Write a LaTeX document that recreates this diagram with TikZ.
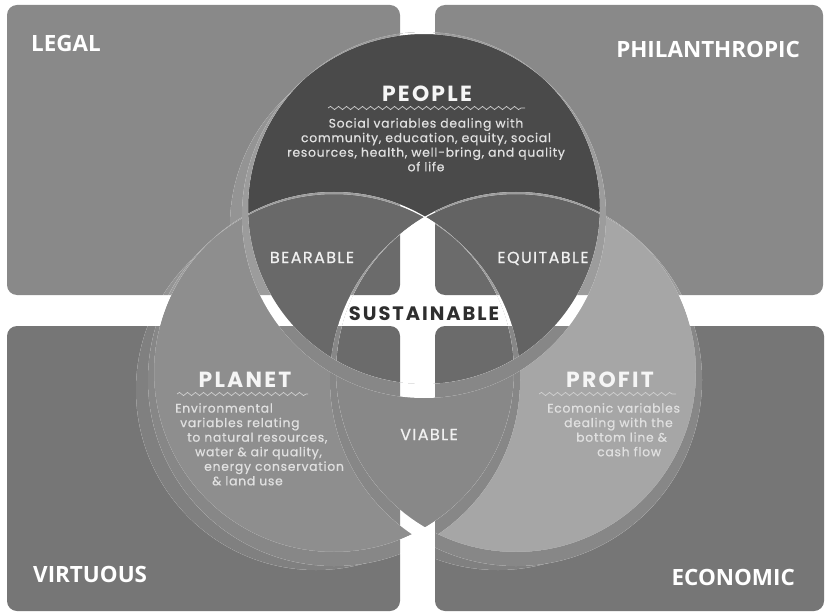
\documentclass[tikz,border=0pt]{standalone}
\usepackage{fontspec}
\usetikzlibrary{calc,decorations.pathmorphing}

\newfontfamily\quadfont{Open Sans}
\newfontfamily\venntitle{Poppins}[LetterSpace=10]
\newfontfamily\vennlabel{Poppins}[LetterSpace=9,FakeBold=0.7]
\newfontfamily\venntext{Poppins}[LetterSpace=6,FakeBold=0.7]

\definecolor{quadtop}{gray}{0.537}
\definecolor{quadbottom}{gray}{0.463}
\definecolor{cresttop}{gray}{0.58}
\definecolor{crestbottom}{gray}{0.50}
\definecolor{rimtop}{gray}{0.61}
\definecolor{rimbottom}{gray}{0.53}
\definecolor{peoplefill}{gray}{0.29}
\definecolor{planetfill}{gray}{0.555}
\definecolor{profitfill}{gray}{0.65}
\definecolor{bearablefill}{gray}{0.41}
\definecolor{equitablefill}{gray}{0.39}
\definecolor{viablefill}{gray}{0.535}
\definecolor{corefill}{gray}{0.42}
\definecolor{wavegray}{gray}{0.82}
\definecolor{bodygray}{gray}{0.88}

% the four quadrants
\newcommand{\quads}[2]{%
  \fill[#1,rounded corners=10bp] (7,5) rectangle (400,295);
  \fill[#1,rounded corners=10bp] (435,5) rectangle (823,295);
  \fill[#2,rounded corners=10bp] (7,326) rectangle (400,611);
  \fill[#2,rounded corners=10bp] (435,326) rectangle (824,611);}
% quadrants seen through a clip, white in the gaps
\newcommand{\backdrop}[2]{%
  \fill[white] (0,0) rectangle (826,614);
  \quads{#1}{#2}}

\begin{document}
\begin{tikzpicture}[x=1bp,y=-1bp,
  quadlabel/.style={text=white,inner sep=0pt,font=\quadfont\bfseries\fontsize{22.5}{26}\selectfont},
  title/.style={text=white!96!black,inner sep=0pt,font=\venntitle\bfseries\fontsize{22}{25}\selectfont},
  overlap/.style={text=white!94!black,inner sep=0pt,font=\vennlabel\fontsize{16}{19}\selectfont},
  body/.style={text=bodygray,inner sep=0pt,font=\venntext\fontsize{12.4}{14.6}\selectfont},
  wave/.style={draw=wavegray,line width=0.7bp,decorate,decoration={snake,segment length=8bp,amplitude=1.6bp}}]
%%
\useasboundingbox (0,0) rectangle (826,614);
\fill[white] (0,0) rectangle (826,614);
\quads{quadtop}{quadbottom}

\coordinate (people) at (424,208);
\coordinate (planet) at (334,372);
\coordinate (profit) at (516,372);

% shadow crescents
\foreach \c/\r in {planet/180,profit/180,people/176}{
  \begin{scope}
    \clip ($(\c)+(-18,18)$) circle (\r);
    \backdrop{cresttop}{crestbottom}
  \end{scope}}

% discs and overlaps
\fill[peoplefill] (people) circle (176);
\fill[planetfill] (planet) circle (180);
\fill[profitfill] (profit) circle (180);
\begin{scope}
  \clip (people) circle (176);
  \fill[bearablefill] (planet) circle (180);
  \fill[equitablefill] (profit) circle (180);
\end{scope}
\begin{scope}
  \clip (planet) circle (180);
  \fill[viablefill] (profit) circle (180);
\end{scope}
\begin{scope}
  \clip (people) circle (176);
  \clip (planet) circle (180);
  \clip (profit) circle (180);
  \backdrop{corefill}{corefill}
\end{scope}

% glass rims
\foreach \c/\r in {planet/180,profit/180,people/176}{
  \begin{scope}
    \clip ($(\c)+(0,8)$) circle ({\r+6})
          ($(\c)+(\r,0)$) arc[start angle=0,end angle=-360,radius=\r];
    \backdrop{rimtop}{rimbottom}
  \end{scope}}

% quadrant labels
\node (legal) [quadlabel,anchor=base west] at (31,52) {LEGAL};
\node (philanthropic) [quadlabel,anchor=base east] at (800,58) {PHILANTHROPIC};
\node (virtuous) [quadlabel,anchor=base west] at (33,582) {VIRTUOUS};
\node (economic) [quadlabel,anchor=base east] at (795,585) {ECONOMIC};

% circle titles
\node (people_title) [title,anchor=base] at (427,102) {PEOPLE};
\node (planet_title) [title,anchor=base] at (245,387) {PLANET};
\node (profit_title) [title,anchor=base] at (610,387) {PROFIT};
\draw[wave] (328,108) -- (525,108);
\draw[wave] (177,394) -- (308,394);
\draw[wave] (539,394) -- (676,394);

\node (people_text) [body,anchor=north,align=center] at (426,118)
  {Social variables dealing with\\community, education, equity, social\\resources, health, well-bring, and quality\\of life};
\node (planet_text) [body,anchor=north west,align=left] at (175,403)
  {Environmental\\\hspace*{5bp}variables relating\\\hspace*{12bp}to natural resources,\\\hspace*{20bp}water \& air quality,\\\hspace*{29bp}energy conservation\\\hspace*{37bp}\& land use};
\node (profit_text) [body,anchor=north west,align=left] at (547,403)
  {Ecomonic variables\\\hspace*{17bp}dealing with the\\\hspace*{29bp}bottom line \&\\\hspace*{50bp}cash flow};

% overlaps
\node (bearable) [overlap,anchor=base] at (312,263) {BEARABLE};
\node (equitable) [overlap,anchor=base] at (543,263) {EQUITABLE};
\node (viable) [overlap,anchor=base] at (429,440) {VIABLE};
\node (sustainable) [title,text=black!82,anchor=base,font=\venntitle\bfseries\fontsize{19.5}{22}\selectfont] at (424,320) {SUSTAINABLE};
%
\end{tikzpicture}
\end{document}
